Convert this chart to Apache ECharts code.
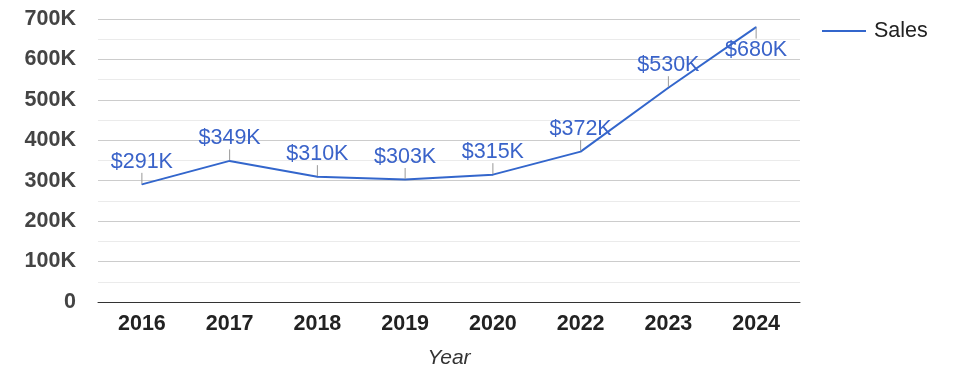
<!DOCTYPE html>
<html>
<head>
<meta charset="utf-8">
<script src="https://cdn.jsdelivr.net/npm/echarts@6/dist/echarts.min.js"></script>
<style>
  html, body { margin: 0; padding: 0; background: #fff; }
  #chart { width: 975px; height: 378px; }
</style>
</head>
<body>
<div id="chart"></div>
<script>
// data
var years = ['2016', '2017', '2018', '2019', '2020', '2022', '2023', '2024'];
var sales = [291000, 349000, 310000, 303000, 315000, 372000, 530000, 680000];

var myChart = echarts.init(document.getElementById('chart'));

// last label sits under its point, like the reference
var seriesData = sales.map(function (v, i) {
    if (i === sales.length - 1) {
        return { value: v, label: { position: 'bottom' } };
    }
    return v;
});

var option = {
    backgroundColor: '#fff',
    animation: false,
    textStyle: { fontFamily: 'Liberation Sans, Arial, sans-serif' },
    grid: { left: 98, right: 175, top: 19, bottom: 76 },
    legend: {
        left: 817,
        top: 15,
        icon: 'rect',
        itemWidth: 44,
        itemHeight: 2,
        itemGap: 10,
        textStyle: { color: '#222', fontSize: 21.5, padding: [0, 0, 0, 3] },
        data: ['Sales']
    },
    xAxis: {
        type: 'category',
        data: years,
        boundaryGap: true,
        name: 'Year',
        nameLocation: 'middle',
        nameGap: 46,
        nameTextStyle: { color: '#333', fontSize: 21, fontStyle: 'italic' },
        axisLine: { lineStyle: { color: '#333', width: 1 } },
        axisTick: { show: false },
        axisLabel: { color: '#222', fontSize: 21.5, fontWeight: 'bold', margin: 11 }
    },
    yAxis: {
        type: 'value',
        min: 0,
        max: 700000,
        interval: 100000,
        axisLine: { show: false },
        axisTick: { show: false },
        axisLabel: {
            color: '#444',
            fontSize: 21.5,
            fontWeight: 'bold',
            margin: 22,
            formatter: function (v) { return v === 0 ? '0' : (v / 1000) + 'K'; }
        },
        splitLine: { lineStyle: { color: '#cccccc', width: 1 } },
        minorTick: { show: false, splitNumber: 2 },
        minorSplitLine: { show: true, lineStyle: { color: '#ebebeb', width: 1 } }
    },
    series: [{
        name: 'Sales',
        type: 'line',
        data: seriesData,
        symbol: 'circle',
        symbolSize: 1,
        showSymbol: true,
        lineStyle: { color: '#3366cc', width: 2 },
        itemStyle: { color: '#3366cc' },
        label: {
            show: true,
            position: 'top',
            distance: 0,
            color: '#3a63c9',
            fontSize: 21.5,
            formatter: function (p) { return '$' + Math.round(p.value / 1000) + 'K'; }
        },
        labelLayout: function (params) {
            return { dy: params.dataIndex === sales.length - 1 ? 11 : -11 };
        },
        labelLine: { show: true, lineStyle: { color: '#999', width: 1 } }
    }]
};

myChart.setOption(option);
</script>
</body>
</html>
